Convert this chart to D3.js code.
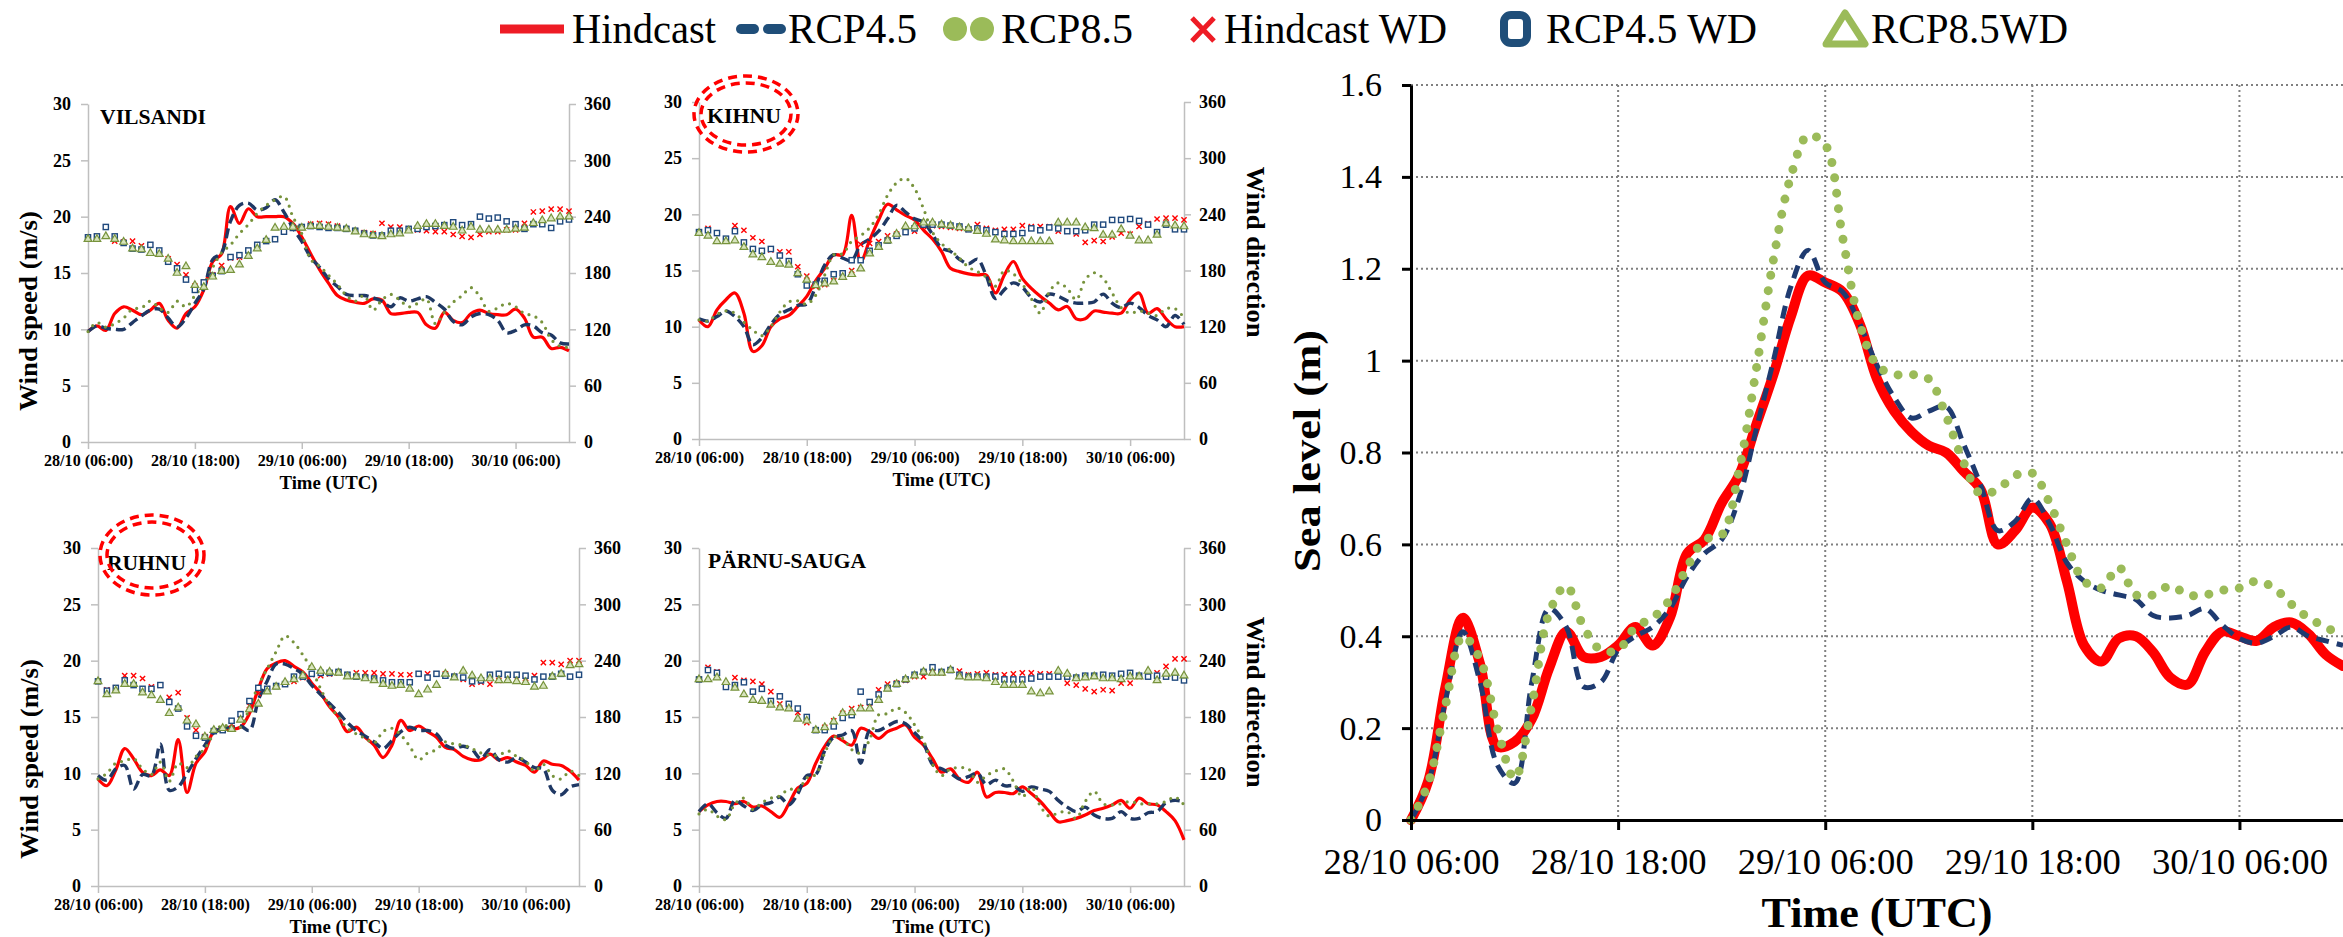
<!DOCTYPE html>
<html>
<head>
<meta charset="utf-8">
<script src="https://cdn.jsdelivr.net/npm/d3@7"></script>
<style>
  body { margin: 0; background: #fff; }
  svg text { font-family: "Liberation Serif", "Times New Roman", "DejaVu Serif", serif; }
</style>
</head>
<body>
<svg id="chart" width="2343" height="937"></svg>
<script>
// time axis: hours after 28/10 06:00 (UTC), hourly values
const hours = d3.range(0, 55);
const tickHours = [0, 12, 24, 36, 48];
const smallTickLabels = ['28/10 (06:00)', '28/10 (18:00)', '29/10 (06:00)', '29/10 (18:00)', '30/10 (06:00)'];
const bigTickLabels = ['28/10 06:00', '28/10 18:00', '29/10 06:00', '29/10 18:00', '30/10 06:00'];
const speedTicks = [0, 5, 10, 15, 20, 25, 30];
const dirTicks = [0, 60, 120, 180, 240, 300, 360];
const seaTicks = [0, 0.2, 0.4, 0.6, 0.8, 1, 1.2, 1.4, 1.6];

// wind speed (m/s)
const vilsandiHindcast = [9.8,10.3,9.9,11.4,12.0,11.7,11.3,11.7,12.3,10.8, 10.1,11.4,12.0,13.5,16.0,16.7,20.9,19.4,20.7,20.0, 20.0,20.0,20.0,19.4,18.2,16.7,15.3,14.1,13.0,12.6, 12.4,12.3,12.7,12.6,11.4,11.4,11.5,11.5,10.4,10.1, 11.5,10.8,10.6,11.4,11.7,11.4,11.3,11.3,11.8,11.0, 9.3,9.3,8.3,8.4,8.1];
const vilsandiRcp45 = [9.8,10.3,10.1,10.0,10.0,10.6,11.2,11.7,11.8,11.0, 10.2,11.0,12.3,13.6,16.2,16.8,19.6,21.0,21.2,20.6, 20.8,21.5,20.4,19.0,17.8,16.4,15.5,14.5,13.8,13.1, 13.0,13.0,12.8,12.5,12.0,12.8,12.5,12.7,12.9,12.4, 11.8,10.7,10.4,11.1,11.4,11.3,10.8,9.7,9.9,10.4, 10.3,9.7,9.5,8.8,8.7];
const vilsandiRcp85 = [9.8,10.6,10.2,10.5,11.0,11.8,11.9,12.5,11.9,11.5, 12.5,12.0,13.0,14.0,15.5,16.8,17.5,18.5,19.3,20.3, 21.0,21.5,21.8,20.0,18.5,16.2,15.6,14.8,14.0,13.0, 12.5,13.0,11.7,12.6,13.1,12.6,12.0,12.3,12.7,10.5, 11.5,12.4,13.0,13.7,12.9,11.6,11.9,12.3,12.0,11.4, 11.2,10.6,9.1,8.5,8.4];
const kihnuHindcast = [10.6,10.0,11.5,12.4,13.0,11.2,7.8,8.3,10.0,10.7, 11.0,11.8,12.7,14.1,15.2,16.4,16.4,19.9,15.8,17.7, 19.5,20.9,20.4,19.9,19.5,18.6,17.8,16.7,15.2,14.9, 14.7,14.6,14.6,13.0,14.6,15.8,14.3,13.4,12.7,12.1, 11.5,11.8,10.7,10.7,11.4,11.3,11.2,11.2,12.4,13.0, 11.2,11.6,10.7,10.0,10.0];
const kihnuRcp45 = [10.7,10.5,10.9,11.4,10.9,10.0,8.4,9.0,10.2,11.1, 11.5,11.9,12.0,13.6,15.5,16.4,16.1,15.9,17.3,17.8, 18.5,19.6,20.8,20.2,19.6,19.3,18.2,17.0,16.7,16.0, 15.6,16.0,14.5,12.5,13.3,13.9,13.5,12.6,12.2,12.9, 12.7,12.3,12.1,12.1,12.2,12.9,12.1,11.7,12.1,11.7, 11.0,10.6,10.0,11.0,10.2];
const kihnuRcp85 = [10.6,10.5,11.1,11.4,11.2,10.4,9.7,9.2,10.0,11.3, 12.2,12.3,12.0,12.8,14.6,16.4,16.5,17.6,18.1,18.8, 20.0,21.7,22.8,23.2,22.3,20.5,18.4,17.4,16.8,16.1, 15.3,14.9,14.4,13.6,15.0,14.7,13.8,12.5,11.2,13.1, 13.9,13.4,12.4,14.2,14.8,14.3,13.0,11.7,11.2,11.4, 11.2,11.0,11.6,11.6,10.8];
const ruhnuHindcast = [9.5,8.9,10.3,12.2,11.3,10.1,9.8,10.3,9.8,13.0, 8.3,10.9,11.9,13.7,13.9,13.9,14.1,15.3,17.5,19.3, 19.8,20.0,19.5,19.0,18.0,17.1,15.9,15.0,13.7,14.1, 13.2,12.5,11.4,12.5,14.7,13.8,14.2,13.7,13.2,12.3, 12.1,11.5,11.2,11.2,11.7,11.2,11.4,11.0,10.7,10.1, 11.1,10.8,10.7,10.2,9.4];
const ruhnuRcp45 = [9.8,9.4,10.4,10.7,8.6,9.9,9.8,12.6,8.5,8.8, 10.0,11.3,12.5,13.6,14.0,14.1,14.2,13.8,16.5,18.2, 19.7,19.7,19.3,18.8,17.8,17.0,16.2,15.4,14.5,13.8, 13.3,12.8,12.2,12.9,13.7,14.1,13.8,13.8,13.5,12.5, 12.2,12.4,12.1,11.3,12.1,11.2,11.0,11.4,11.0,10.5, 10.4,8.5,8.1,8.8,9.0];
const ruhnuRcp85 = [9.5,10.0,10.9,11.1,11.3,10.4,9.9,11.0,9.3,10.9, 10.5,11.5,12.2,13.5,14.3,14.0,14.1,15.8,17.8,19.3, 20.8,22.2,21.6,20.5,19.2,17.5,16.0,15.0,14.0,13.5, 13.1,12.7,13.7,14.0,13.4,12.4,11.2,11.8,12.1,12.8, 12.6,12.5,12.2,11.8,11.6,11.6,12.0,11.5,11.1,10.2, 10.8,9.8,9.5,10.2,9.8];
const parnuHindcast = [6.6,7.2,7.5,7.5,7.3,7.5,7.0,7.1,6.6,6.1, 7.3,8.7,9.1,10.9,12.4,13.3,12.9,12.5,14.0,13.7, 13.1,13.7,14.0,14.3,13.2,12.5,11.3,10.1,10.4,9.5, 9.2,10.1,7.9,8.3,8.3,8.2,8.8,8.2,7.5,6.6, 5.7,5.8,6.0,6.3,6.7,6.9,7.2,7.6,6.9,7.8, 7.3,7.2,6.6,5.8,4.1];
const parnuRcp45 = [6.6,7.3,6.5,6.0,7.6,7.1,6.7,7.2,7.4,7.9, 7.2,8.2,9.8,9.9,12.0,13.2,13.4,13.8,10.9,13.8, 13.8,14.2,14.6,14.4,13.6,12.7,10.8,10.4,10.0,9.5, 9.7,10.0,9.0,9.4,8.9,8.9,8.4,8.8,8.6,8.4, 7.6,7.0,6.6,7.0,6.3,6.0,6.0,6.6,6.0,6.0, 6.5,6.6,7.4,7.6,7.5];
const parnuRcp85 = [6.4,6.8,6.2,5.9,7.3,7.8,6.8,7.4,7.8,8.0, 8.6,8.5,9.6,9.9,11.8,13.2,13.1,12.1,11.8,13.0, 15.2,15.3,15.8,15.4,14.3,12.9,10.8,9.8,10.4,10.5, 10.4,9.2,9.8,10.2,10.4,9.3,7.9,8.8,7.1,6.2, 6.5,6.6,6.0,7.5,8.4,7.3,7.2,7.3,7.5,7.3, 7.3,7.3,7.5,7.9,7.2];

// wind direction (degrees)
const vilsandiHindcastWD = [218,219,229,214,213,214,209,210,200,195, 189,178,166,170,178,188,196,197,204,210, 214,216,224,228,229,232,233,232,230,227, 225,223,222,233,229,229,227,226,225,224, 224,221,219,218,221,224,224,226,226,233, 245,246,248,248,246];
const vilsandiRcp45WD = [218,219,229,219,212,206,205,210,204,192, 185,173,162,170,177,182,197,199,204,210, 214,216,224,228,229,230,229,228,228,227, 225,222,220,220,225,225,227,227,229,230, 231,234,231,232,240,238,239,235,232,227, 232,232,228,235,237];
const vilsandiRcp85WD = [216,216,219,216,213,206,205,201,200,195, 180,187,167,165,176,182,183,189,198,206, 215,228,229,229,228,230,230,229,228,227, 224,221,220,219,221,222,225,230,232,232, 230,229,225,229,226,226,226,226,227,228, 233,236,238,240,240];
const kihnuHindcastWD = [221,225,220,212,228,223,215,211,202,200, 200,184,174,163,165,169,177,180,208,209, 211,217,219,221,222,227,228,227,226,225, 224,229,225,223,224,224,228,227,227,227, 222,222,219,210,212,211,216,220,219,227, 230,235,236,236,234];
const kihnuRcp45WD = [221,223,220,214,222,210,203,201,203,196, 190,176,164,165,169,176,177,191,191,201, 207,212,217,221,225,229,229,229,228,227, 224,225,223,221,219,219,220,225,223,226, 225,222,222,223,229,229,234,234,235,233, 229,221,229,224,224];
const kihnuRcp85WD = [220,217,211,211,212,205,197,194,189,187, 186,177,170,164,166,168,173,176,182,198, 205,212,219,227,227,231,231,229,228,226, 225,222,219,213,212,211,211,211,211,211, 231,231,231,226,225,218,218,224,217,212, 212,218,230,228,227];
const ruhnuHindcastWD = [218,209,211,224,224,221,212,214,201,206, 179,166,159,165,166,172,178,192,205,210, 213,215,218,222,225,224,226,227,225,227, 227,227,226,226,225,225,226,226,226,226, 223,220,215,217,215,219,220,220,221,224, 238,238,236,240,240];
const ruhnuRcp45WD = [218,208,211,219,214,210,210,214,196,189, 170,160,158,165,166,176,183,197,211,210, 213,215,223,223,226,227,227,228,225,223, 222,221,219,217,217,217,226,222,226,224, 223,222,218,219,225,226,225,225,224,220, 223,223,226,223,225];
const ruhnuRcp85WD = [218,204,208,215,215,206,203,198,184,190, 176,172,159,166,168,167,177,188,194,207, 212,217,220,224,233,229,228,227,223,223, 221,219,215,213,214,210,204,209,214,226, 222,229,224,221,221,219,219,218,217,212, 213,223,226,235,236];
const parnuHindcastWD = [220,233,228,214,222,219,218,215,207,194, 192,185,174,166,169,176,184,189,190,195, 209,215,216,219,223,223,227,227,230,229, 225,226,227,225,225,226,227,227,226,226, 223,216,214,210,207,209,208,216,216,223, 223,227,234,242,242];
const parnuRcp45WD = [220,230,227,212,214,217,207,210,197,202, 194,189,180,166,166,170,179,182,207,196, 204,211,215,220,225,228,233,228,230,225, 223,223,223,223,220,220,220,221,223,223, 223,223,222,224,224,225,224,226,227,224, 223,224,223,222,219];
const parnuRcp85WD = [220,220,222,217,211,204,198,197,193,190, 189,178,176,166,169,175,184,185,189,189, 198,210,215,220,224,228,227,227,230,223, 222,222,221,217,214,214,214,207,205,207, 229,226,221,222,223,221,221,220,223,223, 229,219,226,227,224];

// sea level (m)
const seaHindcast = [0,0.085,0.29,0.44,0.34,0.16,0.17,0.22,0.33,0.41, 0.355,0.355,0.38,0.42,0.38,0.44,0.58,0.61,0.69,0.75, 0.86,0.97,1.095,1.185,1.17,1.15,1.08,0.96,0.89,0.845, 0.815,0.80,0.76,0.72,0.60,0.63,0.68,0.645,0.52,0.38, 0.345,0.395,0.40,0.365,0.31,0.295,0.365,0.41,0.40,0.39, 0.42,0.43,0.405,0.36,0.335];
const seaRcp45 = [0,0.08,0.26,0.41,0.30,0.12,0.08,0.30,0.46,0.42, 0.29,0.30,0.37,0.40,0.42,0.46,0.53,0.58,0.61,0.70, 0.85,1.00,1.16,1.24,1.17,1.15,1.08,0.99,0.92,0.875, 0.89,0.90,0.82,0.73,0.63,0.65,0.70,0.645,0.56,0.52, 0.50,0.49,0.48,0.445,0.44,0.445,0.46,0.425,0.395,0.385, 0.40,0.42,0.40,0.39,0.38];
const seaRcp85 = [0,0.08,0.25,0.40,0.35,0.20,0.09,0.25,0.45,0.51, 0.42,0.37,0.37,0.42,0.44,0.48,0.55,0.61,0.62,0.76, 0.98,1.22,1.40,1.49,1.47,1.27,1.08,0.99,0.97,0.97, 0.96,0.88,0.78,0.71,0.72,0.75,0.755,0.69,0.60,0.52, 0.505,0.55,0.49,0.49,0.51,0.49,0.49,0.50,0.505,0.52, 0.505,0.47,0.44,0.42,0.40];

const RED = '#ff0000';
const NAVY = '#1f3864';
const OLIVE = '#77933c';
const LIGHT_GREEN = '#9bbb59';
const SQUARE_BLUE = '#1f497d';
const SERIF = '"Liberation Serif", "Times New Roman", "DejaVu Serif", serif';

const svg = d3.select('#chart').attr('font-family', SERIF);
svg.append('rect').attr('width', 2343).attr('height', 937).attr('fill', '#fff');

const smooth = d3.curveCatmullRom.alpha(0.5);

function styleAxis(sel, color, width) {
    sel.attr('font-family', SERIF);
    sel.select('.domain').attr('stroke', color).attr('stroke-width', width);
    sel.selectAll('.tick line').attr('stroke', color).attr('stroke-width', width);
    sel.selectAll('.tick text').attr('fill', '#000');
}

function drawPanel(p) {
    const x = d3.scaleLinear().domain([0, 54]).range([p.left, p.right]);
    const ySpeed = d3.scaleLinear().domain([0, 30]).range([p.bottom, p.top]);
    const yDir = d3.scaleLinear().domain([0, 360]).range([p.bottom, p.top]);
    const g = svg.append('g').attr('class', 'panel');

    const leftAxis = g.append('g')
        .attr('transform', `translate(${p.left},0)`)
        .call(d3.axisLeft(ySpeed).tickValues(speedTicks).tickSize(7).tickSizeOuter(0).tickPadding(10));
    const rightAxis = g.append('g')
        .attr('transform', `translate(${p.right},0)`)
        .call(d3.axisRight(yDir).tickValues(dirTicks).tickSize(7).tickSizeOuter(0).tickPadding(8));
    const bottomAxis = g.append('g')
        .attr('transform', `translate(0,${p.bottom})`)
        .call(d3.axisBottom(x).tickValues(tickHours).tickFormat((d, i) => smallTickLabels[i])
            .tickSize(7).tickSizeOuter(0).tickPadding(6));

    [leftAxis, rightAxis, bottomAxis].forEach(a => {
        styleAxis(a, '#bfbfbf', 1.5);
        a.attr('font-weight', 'bold').attr('font-size', 18);
    });
    bottomAxis.attr('font-size', 16);
    bottomAxis.selectAll('.tick text').attr('textLength', 89).attr('lengthAdjust', 'spacingAndGlyphs');

    // wind speed lines
    const line = d3.line()
        .x((d, i) => x(hours[i]))
        .y(d => ySpeed(d))
        .curve(smooth);

    g.append('path').datum(p.hindcast)
        .attr('d', line).attr('fill', 'none')
        .attr('stroke', RED).attr('stroke-width', 3.2);
    g.append('path').datum(p.rcp45)
        .attr('d', line).attr('fill', 'none')
        .attr('stroke', NAVY).attr('stroke-width', 3.4)
        .attr('stroke-dasharray', '10,5');
    g.append('path').datum(p.rcp85)
        .attr('d', line).attr('fill', 'none')
        .attr('stroke', OLIVE).attr('stroke-width', 3.2)
        .attr('stroke-linecap', 'round').attr('stroke-dasharray', '0,7.5');

    // wind direction markers
    g.append('g').selectAll('path')
        .data(p.hindcastWD)
        .join('path')
        .attr('transform', (d, i) => `translate(${x(hours[i])},${yDir(d)})`)
        .attr('d', 'M-2.6,-2.6L2.6,2.6M-2.6,2.6L2.6,-2.6')
        .attr('stroke', RED).attr('stroke-width', 1.4);
    g.append('g').selectAll('rect')
        .data(p.rcp45WD)
        .join('rect')
        .attr('x', (d, i) => x(hours[i]) - 2.6)
        .attr('y', d => yDir(d) - 2.6)
        .attr('width', 5.2).attr('height', 5.2)
        .attr('fill', '#fff').attr('stroke', SQUARE_BLUE).attr('stroke-width', 1.4);
    g.append('g').selectAll('path')
        .data(p.rcp85WD)
        .join('path')
        .attr('transform', (d, i) => `translate(${x(hours[i])},${yDir(d)})`)
        .attr('d', d3.symbol().type(d3.symbolTriangle).size(26))
        .attr('fill', '#d7e4bd').attr('stroke', OLIVE).attr('stroke-width', 1.2);

    // station name
    g.append('text')
        .attr('x', p.titleX).attr('y', p.titleY)
        .attr('font-size', 22).attr('font-weight', 'bold')
        .attr('textLength', p.titleW).attr('lengthAdjust', 'spacingAndGlyphs')
        .text(p.name);

    if (p.circle) {
        [0, 7].forEach(off => {
            g.append('ellipse')
                .attr('cx', p.circle[0]).attr('cy', p.circle[1])
                .attr('rx', p.circle[2] - off).attr('ry', p.circle[3] - off)
                .attr('fill', 'none').attr('stroke', RED).attr('stroke-width', 3.5)
                .attr('stroke-dasharray', '9,6');
        });
    }

    // axis titles
    g.append('text')
        .attr('x', (p.left + p.right) / 2).attr('y', p.bottom + 47)
        .attr('text-anchor', 'middle')
        .attr('font-size', 18).attr('font-weight', 'bold')
        .attr('textLength', 98).attr('lengthAdjust', 'spacingAndGlyphs')
        .text('Time (UTC)');

    if (p.speedLabel) {
        g.append('text')
            .attr('transform', `translate(${p.speedLabel[0]},${p.speedLabel[1]}) rotate(-90)`)
            .attr('text-anchor', 'middle').attr('dy', '0.35em')
            .attr('font-size', 25).attr('font-weight', 'bold')
            .attr('textLength', 200).attr('lengthAdjust', 'spacingAndGlyphs')
            .text('Wind speed (m/s)');
    }
    if (p.dirLabel) {
        g.append('text')
            .attr('transform', `translate(${p.dirLabel[0]},${p.dirLabel[1]}) rotate(90)`)
            .attr('text-anchor', 'middle').attr('dy', '0.35em')
            .attr('font-size', 26).attr('font-weight', 'bold')
            .attr('textLength', 171).attr('lengthAdjust', 'spacingAndGlyphs')
            .text('Wind direction');
    }
}

const panels = [
    { name: 'VILSANDI', hindcast: vilsandiHindcast, rcp45: vilsandiRcp45, rcp85: vilsandiRcp85,
      hindcastWD: vilsandiHindcastWD, rcp45WD: vilsandiRcp45WD, rcp85WD: vilsandiRcp85WD,
      left: 88, right: 569, top: 104, bottom: 442, titleX: 100, titleY: 124, titleW: 106,
      speedLabel: [28, 311] },
    { name: 'KIHNU', hindcast: kihnuHindcast, rcp45: kihnuRcp45, rcp85: kihnuRcp85,
      hindcastWD: kihnuHindcastWD, rcp45WD: kihnuRcp45WD, rcp85WD: kihnuRcp85WD,
      left: 699, right: 1184, top: 102, bottom: 439, titleX: 707, titleY: 123, titleW: 74,
      dirLabel: [1256, 252], circle: [746, 114, 52, 38] },
    { name: 'RUHNU', hindcast: ruhnuHindcast, rcp45: ruhnuRcp45, rcp85: ruhnuRcp85,
      hindcastWD: ruhnuHindcastWD, rcp45WD: ruhnuRcp45WD, rcp85WD: ruhnuRcp85WD,
      left: 98, right: 579, top: 548, bottom: 886, titleX: 107, titleY: 570, titleW: 79,
      speedLabel: [29, 759], circle: [152, 555, 52, 40] },
    { name: 'PÄRNU-SAUGA', hindcast: parnuHindcast, rcp45: parnuRcp45, rcp85: parnuRcp85,
      hindcastWD: parnuHindcastWD, rcp45WD: parnuRcp45WD, rcp85WD: parnuRcp85WD,
      left: 699, right: 1184, top: 548, bottom: 886, titleX: 708, titleY: 568, titleW: 158,
      dirLabel: [1256, 702] }
];

panels.forEach(drawPanel);

// sea level panel
function drawSeaLevel() {
    const box = { left: 1411, right: 2343, top: 85, bottom: 820 };
    const x = d3.scaleLinear().domain([0, 54]).range([box.left, box.right]);
    const y = d3.scaleLinear().domain([0, 1.6]).range([box.bottom, box.top]);
    const g = svg.append('g');

    // dotted grid
    g.append('g').selectAll('line')
        .data(seaTicks.slice(1))
        .join('line')
        .attr('x1', box.left).attr('x2', box.right)
        .attr('y1', d => y(d)).attr('y2', d => y(d))
        .attr('stroke', '#808080').attr('stroke-width', 2).attr('stroke-dasharray', '2,3');
    g.append('g').selectAll('line')
        .data(tickHours.slice(1))
        .join('line')
        .attr('x1', d => x(d)).attr('x2', d => x(d))
        .attr('y1', box.top).attr('y2', box.bottom)
        .attr('stroke', '#808080').attr('stroke-width', 2).attr('stroke-dasharray', '2,3');

    const line = d3.line()
        .x((d, i) => x(hours[i]))
        .y(d => y(d))
        .curve(smooth);

    g.append('path').datum(seaHindcast)
        .attr('d', line).attr('fill', 'none')
        .attr('stroke', RED).attr('stroke-width', 10)
        .attr('stroke-linecap', 'round').attr('stroke-linejoin', 'round');
    g.append('path').datum(seaRcp45)
        .attr('d', line).attr('fill', 'none')
        .attr('stroke', '#1f3b70').attr('stroke-width', 5)
        .attr('stroke-dasharray', '13,8');
    g.append('path').datum(seaRcp85)
        .attr('d', line).attr('fill', 'none')
        .attr('stroke', LIGHT_GREEN).attr('stroke-width', 9)
        .attr('stroke-linecap', 'round').attr('stroke-dasharray', '0,15.5');

    const yAxis = g.append('g')
        .attr('transform', `translate(${box.left},0)`)
        .call(d3.axisLeft(y).tickValues(seaTicks).tickFormat(d3.format('~g'))
            .tickSize(9).tickSizeOuter(0).tickPadding(20));
    const xAxis = g.append('g')
        .attr('transform', `translate(0,${box.bottom})`)
        .call(d3.axisBottom(x).tickValues(tickHours).tickFormat((d, i) => bigTickLabels[i])
            .tickSize(10).tickSizeOuter(0).tickPadding(18));
    [yAxis, xAxis].forEach(a => styleAxis(a, '#000', 3));
    yAxis.attr('font-size', 34);
    xAxis.attr('font-size', 36);
    xAxis.selectAll('.tick text').attr('textLength', 176).attr('lengthAdjust', 'spacingAndGlyphs');

    g.append('text')
        .attr('x', (box.left + box.right) / 2).attr('y', 927)
        .attr('text-anchor', 'middle')
        .attr('font-size', 42).attr('font-weight', 'bold')
        .attr('textLength', 231).attr('lengthAdjust', 'spacingAndGlyphs')
        .text('Time (UTC)');
    g.append('text')
        .attr('transform', 'translate(1307,451) rotate(-90)')
        .attr('text-anchor', 'middle').attr('dy', '0.35em')
        .attr('font-size', 38).attr('font-weight', 'bold')
        .attr('textLength', 242).attr('lengthAdjust', 'spacingAndGlyphs')
        .text('Sea level (m)');
}

drawSeaLevel();

// legend across the top
function drawLegend() {
    const g = svg.append('g').attr('font-size', 42);
    const cy = 29;
    const base = 43;

    g.append('line').attr('x1', 500).attr('x2', 564).attr('y1', cy).attr('y2', cy)
        .attr('stroke', '#ee1c25').attr('stroke-width', 9);
    g.append('text').attr('x', 572).attr('y', base)
        .attr('textLength', 144).attr('lengthAdjust', 'spacingAndGlyphs').text('Hindcast');

    [[741, 754], [768, 781]].forEach(([a, b]) => {
        g.append('line').attr('x1', a).attr('x2', b).attr('y1', cy).attr('y2', cy)
            .attr('stroke', '#1f4e79').attr('stroke-width', 10).attr('stroke-linecap', 'round');
    });
    g.append('text').attr('x', 788).attr('y', base)
        .attr('textLength', 129).attr('lengthAdjust', 'spacingAndGlyphs').text('RCP4.5');

    [955, 982].forEach(cx => {
        g.append('circle').attr('cx', cx).attr('cy', cy).attr('r', 12).attr('fill', LIGHT_GREEN);
    });
    g.append('text').attr('x', 1001).attr('y', base)
        .attr('textLength', 132).attr('lengthAdjust', 'spacingAndGlyphs').text('RCP8.5');

    g.append('path')
        .attr('d', 'M1192,18L1214,41M1192,41L1214,18')
        .attr('stroke', '#ee1c25').attr('stroke-width', 5).attr('fill', 'none');
    g.append('text').attr('x', 1224).attr('y', base)
        .attr('textLength', 223).attr('lengthAdjust', 'spacingAndGlyphs').text('Hindcast WD');

    g.append('rect').attr('x', 1504).attr('y', 15).attr('width', 23).attr('height', 28).attr('rx', 7)
        .attr('fill', '#fff').attr('stroke', '#1f4e79').attr('stroke-width', 8);
    g.append('text').attr('x', 1546).attr('y', base)
        .attr('textLength', 211).attr('lengthAdjust', 'spacingAndGlyphs').text('RCP4.5 WD');

    g.append('path')
        .attr('d', 'M1845,13L1865,44L1826,44Z')
        .attr('fill', '#fff').attr('stroke', LIGHT_GREEN).attr('stroke-width', 7)
        .attr('stroke-linejoin', 'round');
    g.append('text').attr('x', 1871).attr('y', base)
        .attr('textLength', 197).attr('lengthAdjust', 'spacingAndGlyphs').text('RCP8.5WD');
}

drawLegend();
</script>
</body>
</html>
